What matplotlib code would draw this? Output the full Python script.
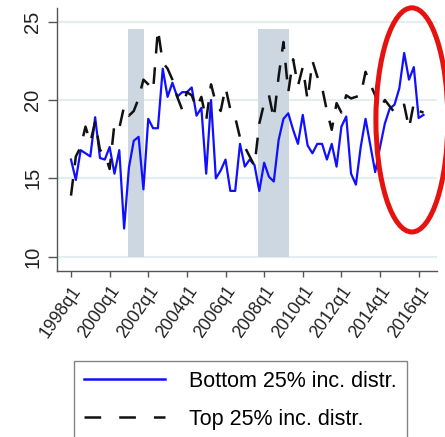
import matplotlib
matplotlib.use("Agg")
import matplotlib.pyplot as plt
from matplotlib.patches import Ellipse
from matplotlib.lines import Line2D

plt.rcParams['font.family'] = ['Liberation Sans', 'DejaVu Sans']
plt.rcParams['lines.scale_dashes'] = False

# Quarterly series, 1998q1 .. 2016q2
start_year = 1998
bottom25 = [16.2, 14.9, 16.8, 16.6, 16.4, 18.9, 16.3, 16.2, 17.0, 15.3,
            16.8, 11.8, 15.7, 17.4, 17.65, 14.3, 18.8, 18.2, 18.2, 22.0,
            20.2, 21.1, 20.2, 20.5, 20.5, 20.8, 19.0, 19.5, 15.3, 20.0,
            15.0, 15.5, 16.2, 14.2, 14.2, 17.2, 15.75, 16.2, 15.85, 14.2,
            16.0, 15.1, 14.8, 17.45, 18.8, 19.15, 18.1, 17.2, 19.05, 17.1,
            16.6, 17.2, 17.2, 16.2, 17.2, 15.75, 18.3, 18.95, 15.3, 14.6,
            17.0, 18.8, 17.1, 15.4, 17.0, 18.5, 19.45, 19.7, 20.75, 23.0,
            21.3, 22.1, 18.85, 19.05]
top25 = [13.9, 16.4, 17.0, 18.3, 17.3, 18.6, 16.8, 16.6, 15.6, 18.5,
         18.2, 19.6, 19.0, 19.3, 20.1, 21.3, 21.0, 20.6, 24.5, 22.4,
         22.0, 21.3, 20.2, 19.4, 20.5, 20.3, 19.5, 20.2, 18.7, 21.0,
         19.8, 19.3, 20.8, 19.4, 18.9, 17.6, 17.0, 16.4, 15.8, 18.5,
         19.8, 20.3, 18.8, 21.5, 23.7, 20.5, 22.6, 20.9, 22.1, 20.0,
         22.5, 21.5, 20.8, 19.3, 18.1, 19.8, 19.2, 20.3, 20.1, 20.2,
         20.3, 21.8, 21.0, 20.3, 19.4, 20.0, 19.6, 19.2, 19.6, 19.7,
         18.2, 19.8, 19.3, 19.2]

tick_labels = ["1998q1", "2000q1", "2002q1", "2004q1", "2006q1",
               "2008q1", "2010q1", "2012q1", "2014q1", "2016q1"]
y_ticks = [10, 15, 20, 25]

# Recession periods (first and last quarter) and the band's vertical span
recessions = [("2001q1", "2001q4"), ("2007q4", "2009q2")]
band_low, band_high = 10, 24.5

series_labels = ["Bottom 25% inc. distr.", "Top 25% inc. distr."]


def qindex(label):
    year, q = label.split("q")
    return (int(year) - start_year) * 4 + int(q) - 1


x = list(range(len(bottom25)))

W, H = 445, 437
fig = plt.figure(figsize=(W / 100, H / 100), dpi=100)
ax = fig.add_axes([57 / W, 1 - 271 / H, (437 - 57) / W, (271 - 8) / H])

for a, b in recessions:
    x0, x1 = qindex(a) - 0.25, qindex(b) + 0.1
    ax.fill_between([x0, x1], band_low, band_high, color="#ccd7e1",
                    lw=0, zorder=1)

ax.plot(x, bottom25, color="#1010ff", lw=1.6, zorder=3)
ax.plot(x, top25, color="#111111", lw=1.8, dashes=(12, 10), zorder=3)

ax.set_xlim(-2.9, 75.8)
ax.set_ylim(9.09, 25.87)
ax.set_yticks(y_ticks)
ax.set_yticklabels([str(v) for v in y_ticks], rotation=90, va="center",
                   fontsize=14.5, color="#222222")
ax.set_xticks([qindex(t) for t in tick_labels])
ax.set_xticklabels(tick_labels, rotation=55, ha="right",
                   rotation_mode="anchor", fontsize=12.7, color="#222222")
ax.tick_params(axis="y", length=6.5, width=1, color="#555555", pad=4)
ax.tick_params(axis="x", length=4.5, width=1, color="#555555", pad=4)
ax.grid(axis="y", color="#e4edf0", lw=1.6, zorder=0)
ax.set_axisbelow(True)
for s in ("top", "right"):
    ax.spines[s].set_visible(False)
for s in ("left", "bottom"):
    ax.spines[s].set_color("#555555")
    ax.spines[s].set_linewidth(1.0)

ax.add_patch(Ellipse((70.6, 18.73), 14.9, 14.3, fill=False,
                     edgecolor="#e5120f", lw=3.6, clip_on=False, zorder=5))

handles = [Line2D([], [], color="#1010ff", lw=1.8),
           Line2D([], [], color="#111111", lw=1.8, dashes=(12, 13))]
leg = fig.legend(handles, series_labels, loc="upper left",
                 bbox_to_anchor=(74 / W, 1 - 361 / H), fontsize=15.5,
                 frameon=True, fancybox=False, edgecolor="#666666",
                 handlelength=3.8, handletextpad=1.1, borderpad=0.45,
                 labelspacing=0.8, borderaxespad=0)
leg.get_frame().set_linewidth(1.0)

fig.savefig("out.png", dpi=100)
